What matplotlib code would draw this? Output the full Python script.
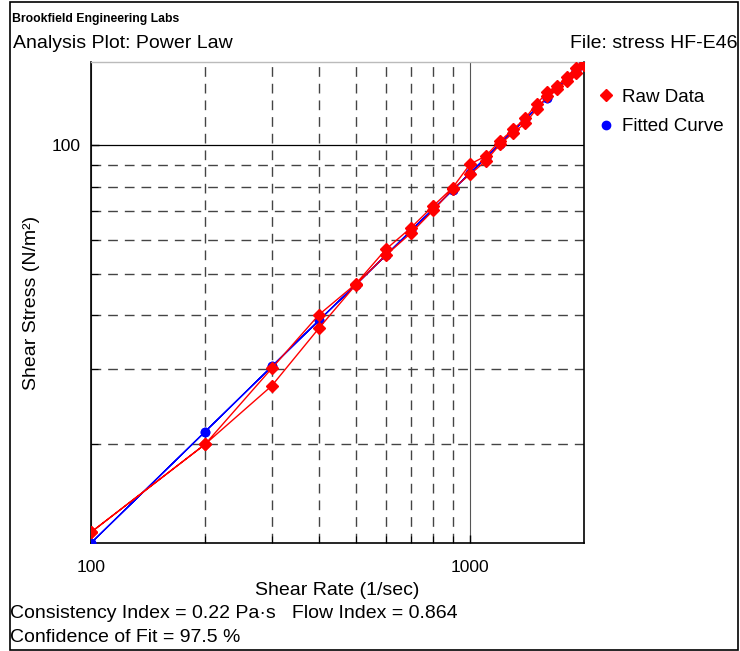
import matplotlib
matplotlib.use("Agg")
import matplotlib.pyplot as plt
from matplotlib.lines import Line2D
from matplotlib.patches import Rectangle
from matplotlib.ticker import FixedLocator, NullFormatter, FixedFormatter
import numpy as np

# ---------------- data ----------------
rate_up = [100, 200, 300, 400, 500, 600, 700, 800, 900, 1000,
           1100, 1200, 1300, 1400, 1500, 1600, 1700, 1800, 1900, 2000]
stress_up = [12.46, 20.0, 30.1, 40.2, 47.4, 57.1, 64.2, 72.1, 79.5, 90.2,
             94.3, 102.2, 108.8, 115.6, 124.9, 132.9, 137.5, 144.3, 151.4, 155.0]

rate_down = [2000, 1900, 1800, 1700, 1600, 1500, 1400, 1300, 1200, 1100,
             1000, 900, 800, 700, 600, 500, 400, 300, 200, 100]
stress_down = [154.2, 147.4, 141.0, 135.5, 130.1, 121.5, 112.5, 106.8, 100.4, 91.8,
               85.4, 79.0, 70.4, 62.4, 55.3, 47.2, 37.4, 27.4, 20.0, 12.46]

fit_rate = [100, 200, 300, 400, 500, 600, 700, 800, 900, 1000,
            1100, 1200, 1300, 1400, 1500, 1600, 1700, 1800, 1900, 2000]
fit_stress = [11.76, 21.4, 30.4, 39.0, 47.2, 55.3, 63.2, 70.9, 78.5, 86.0,
              93.4, 100.7, 107.9, 115.0, 122.1, 129.1, 136.0, 142.9, 149.7, 156.4]

consistency = 0.22
flow_index = 0.864
confidence = 97.5
file_name = "stress HF-E46"

# ---------------------------------------------------------------
plt.rcParams["font.family"] = ["Liberation Sans", "DejaVu Sans"]

W, H = 740, 651
fig = plt.figure(figsize=(W / 100, H / 100), dpi=100)
ax = fig.add_axes([91 / W, 1 - 543 / H, (584 - 91) / W, (543 - 62) / H])

raw_x = rate_up + rate_down
raw_y = stress_up + stress_down

ax.plot(fit_rate + fit_rate[::-1], fit_stress + fit_stress[::-1], color="blue",
        lw=1.0, marker="o", ms=6, mec="blue", mfc="blue", zorder=3)
ax.plot(raw_x, raw_y, color="red", lw=1.0, marker="D", ms=6, mec="red",
        mfc="red", zorder=4)

ax.set_xscale("log")
ax.set_yscale("log")
ax.set_xlim(fit_rate[0], fit_rate[-1])
ax.set_ylim(fit_stress[0], fit_stress[-1])

# ticks
ax.xaxis.set_major_locator(FixedLocator([100, 1000]))
ax.xaxis.set_major_formatter(FixedFormatter(["100", "1000"]))
ax.xaxis.set_minor_locator(FixedLocator([200, 300, 400, 500, 600, 700, 800, 900]))
ax.xaxis.set_minor_formatter(NullFormatter())
ax.yaxis.set_major_locator(FixedLocator([100]))
ax.yaxis.set_major_formatter(FixedFormatter(["100"]))
ax.yaxis.set_minor_locator(FixedLocator([20, 30, 40, 50, 60, 70, 80, 90]))
ax.yaxis.set_minor_formatter(NullFormatter())
ax.tick_params(which="both", direction="in", labelsize=12.5, colors="black")
ax.tick_params(which="major", length=6, width=1)
ax.tick_params(which="minor", length=5, width=0.8)
ax.tick_params(axis="x", which="major", pad=12)
ax.tick_params(axis="y", which="major", pad=7.5)

# grid
ax.grid(which="major", axis="y", color="black", lw=0.9, ls="-")
ax.grid(which="major", axis="x", color="#555555", lw=0.8, ls="-")
ax.grid(which="minor", color="#444444", lw=1.0, ls=(0, (7, 5)))
ax.set_axisbelow(True)

for s in ["left", "bottom", "right"]:
    ax.spines[s].set_color("black")
    ax.spines[s].set_linewidth(1.2)
ax.spines["top"].set_color("#bbbbbb")
ax.spines["top"].set_linewidth(1.0)

ax.set_xlabel("Shear Rate (1/sec)", fontsize=14, labelpad=5)
ax.set_ylabel("Shear Stress (N/m\u00b2)", fontsize=14, labelpad=8)

# legend
handles = [
    Line2D([], [], ls="none", marker="D", ms=6, color="red"),
    Line2D([], [], ls="none", marker="o", ms=6, color="blue"),
]
fig.legend(handles, ["Raw Data", "Fitted Curve"], loc="upper left",
           bbox_to_anchor=(591 / W, 1 - 81 / H), frameon=False, fontsize=13.5,
           handlelength=0.8, handletextpad=0.45, labelspacing=0.66,
           borderaxespad=0)

# header / footer text
fig.text(12 / W, 1 - 19 / H, "Brookfield Engineering Labs", fontsize=8.8,
         fontweight="bold", va="center", ha="left")
fig.text(13 / W, 1 - 44 / H, "Analysis Plot: Power Law", fontsize=14,
         va="center", ha="left")
fig.text(738 / W, 1 - 44 / H, f"File: {file_name}", fontsize=14,
         va="center", ha="right")
fig.text(10 / W, 1 - 614 / H,
         f"Consistency Index = {consistency} Pa\u00b7s   Flow Index = {flow_index}",
         fontsize=14, va="center", ha="left")
fig.text(10 / W, 1 - 638 / H, f"Confidence of Fit = {confidence} %",
         fontsize=14, va="center", ha="left")

# outer frame
fig.patches.append(Rectangle((9.5 / W, 1.5 / H), (738 - 9.5) / W, (649 - 1.5) / H,
                             transform=fig.transFigure, fill=False,
                             edgecolor="black", lw=1.2))

fig.savefig("out.png", dpi=100)
